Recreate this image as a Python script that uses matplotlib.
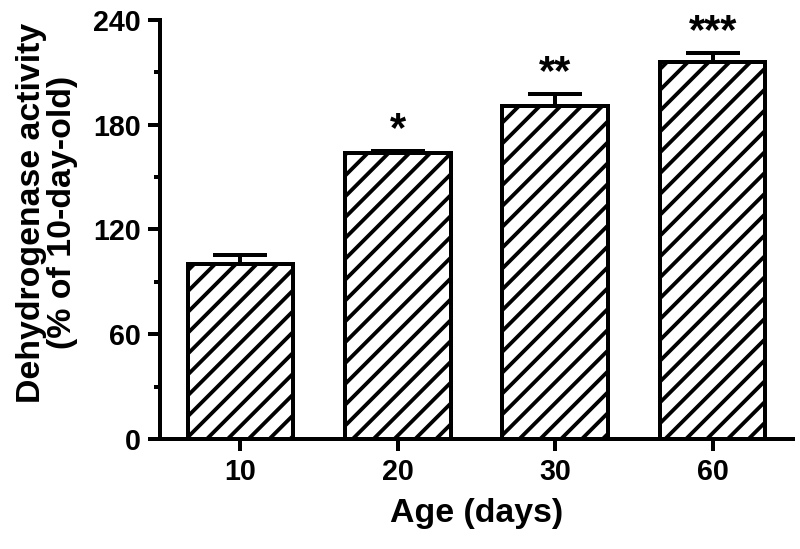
import numpy as np
import matplotlib
matplotlib.use('Agg')
import matplotlib.pyplot as plt

# data
ages = ['10', '20', '30', '60']
activity = [100, 164, 191, 216]      # % of 10-day-old
sem = [5.4, 1.0, 6.5, 5.0]
stars = ['', '*', '**', '***']

plt.rcParams['font.family'] = ['Liberation Sans', 'DejaVu Sans']
plt.rcParams['font.weight'] = 'bold'
plt.rcParams['hatch.linewidth'] = 2.2
plt.rcParams['hatch.color'] = 'black'

lw = 2.3
fig = plt.figure(figsize=(6.4, 4.392), dpi=125)
ax = fig.add_axes([0.2, 0.2004, 0.7912, 0.7632])

x = np.arange(len(ages))
ax.bar(x, activity, width=0.67, color='white', edgecolor='black',
       linewidth=lw, hatch='//', zorder=2)
ax.errorbar(x, activity, yerr=[np.zeros(len(sem)), sem], fmt='none',
            ecolor='black', elinewidth=lw, capsize=15.5, capthick=lw, zorder=1)

for xi, m, s, st in zip(x, activity, sem, stars):
    if st:
        ax.text(xi, m + s + 12, st, ha='center', va='center',
                fontsize=24, fontweight='bold')

ax.set_xlim(-0.51, 3.51)
ax.set_ylim(0, 240)
ax.set_xticks(x)
ax.set_xticklabels(ages)
ax.set_yticks([0, 60, 120, 180, 240])
ax.set_yticks([30, 90, 150, 210], minor=True)

for side in ['top', 'right']:
    ax.spines[side].set_visible(False)
for side in ['left', 'bottom']:
    ax.spines[side].set_linewidth(lw)

ax.tick_params(axis='both', which='major', length=6.9, width=lw,
               labelsize=16.5, pad=4)
ax.tick_params(axis='y', which='minor', length=3.5, width=lw)
ax.tick_params(axis='x', which='minor', bottom=False)

ax.set_xlabel('Age (days)', fontsize=19.5, fontweight='bold', labelpad=7)
ax.set_ylabel('Dehydrogenase activity\n(% of 10-day-old)', fontsize=19.5,
              fontweight='bold', linespacing=1.0)
ax.yaxis.set_label_coords(-0.13, 0.54)

fig.savefig('out.png', dpi=125)
